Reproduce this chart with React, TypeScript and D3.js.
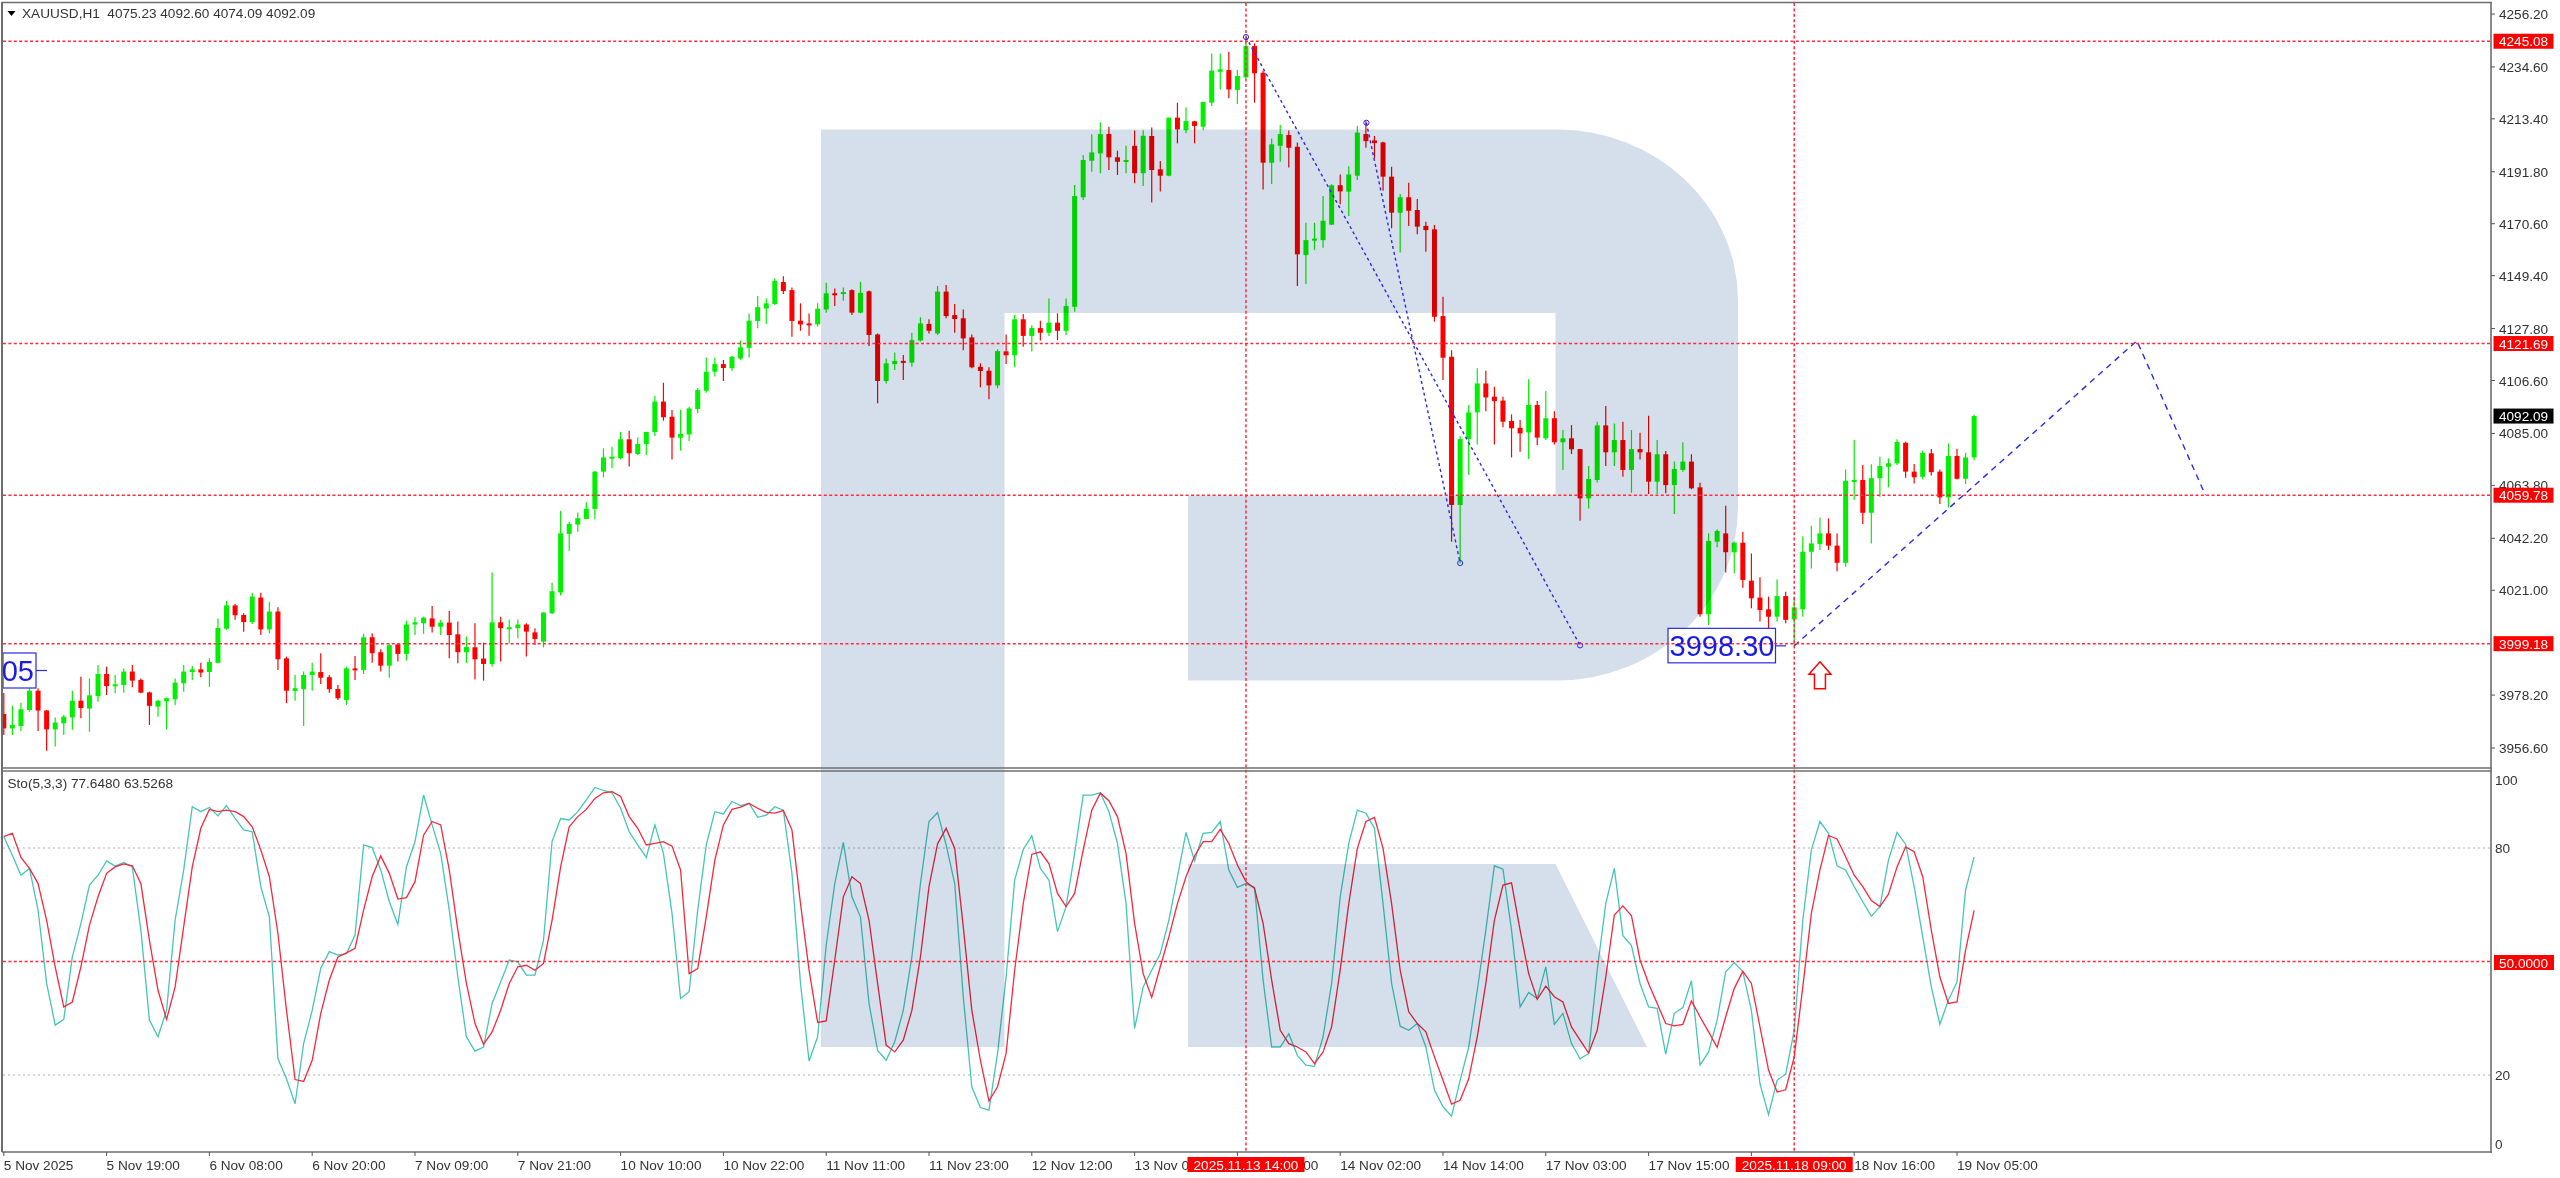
import React from "react";
import * as d3 from "d3";

const highs = [
3979.0,3973.8,3975.1,3984.4,3981.0,3972.1,3969.1,3970.1,3980.0,3985.7,
3985.0,3990.5,3989.8,3986.4,3989.1,3990.5,3985.0,3979.6,3976.2,3977.2,
3985.0,3990.5,3990.1,3991.4,3993.2,4009.5,4016.6,4015.4,4011.6,4020.0,
4020.0,4016.3,4014.0,3993.9,3986.4,3987.8,3991.4,3995.3,3986.4,3982.3,
3989.8,3994.2,4003.2,4003.4,3996.9,3998.9,3999.3,4008.6,4010.0,4010.2,
4014.6,4008.9,4012.5,4008.2,4002.1,4007.5,3999.6,4028.2,4010.2,4008.9,
4009.1,4007.5,4005.5,4012.0,4024.1,4053.3,4049.0,4052.7,4056.9,4069.7,
4078.9,4079.6,4085.7,4086.1,4083.4,4085.7,4100.4,4105.7,4094.6,4094.6,
4095.9,4103.4,4116.0,4116.0,4115.0,4116.6,4122.9,4134.0,4141.1,4140.1,
4148.3,4149.2,4144.6,4138.1,4134.0,4138.1,4146.5,4144.2,4144.6,4143.8,
4146.9,4143.3,4125.8,4115.6,4118.0,4117.0,4126.1,4132.4,4131.6,4145.2,
4145.6,4137.8,4135.6,4125.4,4113.6,4112.0,4119.3,4125.4,4133.3,4133.7,
4129.2,4131.0,4140.1,4134.0,4140.1,4186.4,4198.6,4207.1,4212.0,4210.2,
4200.4,4202.4,4208.6,4208.8,4209.9,4196.2,4214.0,4220.0,4218.1,4212.6,
4220.4,4240.1,4240.1,4240.8,4233.3,4246.9,4244.2,4233.1,4205.4,4210.9,
4208.6,4203.7,4171.0,4171.0,4181.9,4186.7,4190.7,4194.1,4210.5,4212.6,
4206.4,4204.1,4193.9,4182.7,4187.3,4180.7,4171.4,4170.1,4140.8,4119.0,
4083.9,4096.6,4111.6,4110.6,4104.1,4100.0,4092.8,4090.5,4107.1,4098.2,
4102.3,4094.1,4086.4,4088.4,4078.6,4071.7,4089.8,4096.2,4089.1,4089.8,
4086.4,4085.3,4092.2,4082.3,4077.8,4073.5,4081.4,4076.5,4064.9,4044.2,
4045.9,4055.5,4040.8,4044.9,4036.0,4026.3,4018.4,4025.4,4020.4,4018.4,
4042.9,4047.3,4050.7,4050.3,4044.2,4070.3,4082.3,4072.1,4072.4,4075.5,
4074.8,4082.6,4081.6,4072.5,4078.0,4078.6,4070.3,4080.9,4078.6,4077.1,4092.60];

const lows = [
3961.9,3961.9,3963.5,3971.4,3963.5,3955.5,3957.2,3961.9,3964.0,3968.7,
3963.3,3975.5,3978.2,3978.9,3979.2,3981.4,3978.9,3966.0,3969.4,3964.2,
3974.2,3979.6,3984.4,3985.5,3981.6,3991.2,4004.8,4008.9,4004.1,4007.2,
4002.7,4003.4,3988.4,3974.9,3975.9,3965.6,3980.0,3982.7,3979.2,3976.2,
3974.2,3984.4,3986.8,3991.4,3987.8,3985.3,3991.9,3992.3,4002.7,4003.2,
4003.7,4002.7,3993.2,3991.2,3991.2,3984.6,3984.1,3989.8,3991.9,3999.3,
4001.4,3993.9,3998.6,3997.7,4011.3,4018.8,4037.1,4044.9,4050.1,4050.0,
4067.1,4070.8,4074.4,4071.5,4076.2,4076.2,4083.9,4090.2,4074.4,4078.0,
4081.9,4093.2,4101.6,4108.2,4106.4,4110.6,4115.0,4116.0,4127.9,4129.7,
4137.4,4141.9,4124.5,4126.9,4124.9,4128.6,4134.3,4137.0,4139.2,4133.3,
4134.0,4120.7,4097.3,4105.4,4110.9,4106.8,4112.2,4122.5,4125.8,4125.2,
4132.0,4126.1,4119.0,4111.6,4103.8,4098.9,4103.4,4113.3,4112.0,4120.4,
4118.4,4122.9,4124.8,4123.1,4125.2,4134.7,4180.3,4191.8,4191.2,4192.5,
4190.5,4191.2,4187.1,4186.0,4179.3,4183.7,4190.0,4203.4,4207.5,4203.4,
4208.8,4218.6,4225.4,4221.8,4219.5,4229.9,4220.0,4184.6,4186.8,4195.9,
4193.5,4145.2,4146.0,4159.9,4160.8,4170.1,4178.5,4173.7,4188.4,4201.6,
4197.3,4184.1,4168.7,4158.8,4169.7,4166.3,4159.2,4130.6,4106.8,4040.8,
4032.0,4068.0,4080.5,4094.1,4080.5,4087.5,4075.2,4077.5,4074.6,4080.3,
4082.3,4080.5,4070.1,4076.6,4049.4,4054.4,4065.0,4071.7,4071.7,4067.3,
4060.8,4074.4,4060.3,4060.3,4060.6,4052.1,4069.4,4062.2,4010.2,4006.8,
4038.5,4028.2,4027.9,4022.0,4013.6,4008.2,4004.8,4008.2,4007.5,3998.6,
4010.2,4029.9,4037.4,4037.4,4028.6,4030.6,4057.8,4048.0,4040.1,4059.2,
4063.0,4072.1,4066.9,4064.6,4066.2,4067.8,4056.2,4054.8,4066.2,4064.3,4074.09];

const opens = [
3970.5,3964.6,3965.6,3972.1,3980.0,3971.9,3964.2,3966.7,3969.1,3975.9,
3972.7,3977.8,3986.8,3981.9,3982.3,3987.8,3984.4,3979.3,3973.5,3975.7,
3976.5,3983.0,3987.6,3988.7,3987.6,3991.4,4005.3,4014.8,4010.9,4008.0,
4018.0,4005.0,4012.3,3993.2,3979.9,3980.6,3986.4,3987.6,3985.5,3980.7,
3976.2,3989.1,3988.4,4001.8,3995.7,3990.2,3998.9,3995.0,4007.0,4007.5,
4009.5,4006.1,4007.8,4003.0,3995.7,3997.7,3993.1,3990.9,4007.9,4005.5,
4005.5,4007.0,4003.8,4000.0,4011.6,4020.1,4044.0,4047.8,4050.1,4054.2,
4069.4,4075.0,4074.9,4082.6,4076.6,4080.7,4085.6,4098.0,4091.8,4083.3,
4084.6,4095.0,4102.4,4110.2,4113.3,4111.6,4115.6,4119.9,4130.9,4136.0,
4137.8,4146.8,4143.5,4131.0,4129.9,4129.5,4135.6,4142.2,4141.9,4143.5,
4134.3,4143.0,4125.4,4106.4,4113.3,4114.6,4113.9,4122.9,4129.7,4125.8,
4142.9,4133.3,4132.0,4124.2,4112.2,4110.6,4104.6,4118.5,4116.9,4131.6,
4124.8,4128.0,4126.1,4130.2,4126.9,4136.7,4181.4,4196.3,4199.3,4207.2,
4197.7,4196.0,4202.4,4191.2,4206.4,4192.8,4190.2,4213.9,4208.8,4212.4,
4210.2,4220.0,4232.6,4233.3,4225.2,4230.3,4243.1,4232.2,4195.5,4202.4,
4206.8,4202.0,4157.8,4163.8,4163.9,4170.2,4186.3,4183.7,4190.2,4207.2,
4204.6,4203.8,4189.8,4175.1,4181.4,4176.2,4169.7,4168.3,4132.9,4116.3,
4055.8,4082.7,4093.6,4105.4,4100.0,4098.4,4090.1,4087.3,4085.4,4096.6,
4083.0,4091.2,4081.4,4083.0,4078.6,4058.5,4066.0,4088.3,4077.3,4082.3,
4070.1,4078.6,4077.3,4065.3,4076.5,4063.9,4070.1,4073.5,4063.0,4011.2,
4040.8,4044.2,4036.5,4040.4,4024.9,4018.0,4013.2,4010.2,4018.6,4009.1,
4013.2,4036.7,4039.9,4044.2,4039.2,4032.2,4065.2,4066.0,4052.6,4066.7,
4071.4,4072.8,4081.2,4069.4,4067.3,4076.9,4069.4,4058.9,4075.8,4066.5,4075.23];

const closes = [
3964.6,3966.0,3972.4,3980.0,3971.9,3964.2,3967.0,3969.4,3975.9,3972.9,
3978.1,3986.8,3981.9,3982.6,3987.8,3984.1,3979.2,3973.8,3975.9,3976.9,
3983.3,3987.8,3988.7,3987.4,3991.7,4005.6,4014.8,4010.8,4008.0,4018.4,
4005.0,4012.3,3992.8,3980.0,3981.0,3986.4,3987.8,3985.3,3980.6,3976.9,
3989.1,3988.4,4001.8,3995.3,3990.2,3998.6,3995.0,4007.0,4007.9,4009.8,
4006.1,4007.8,4002.7,3995.7,3997.8,3992.8,3990.9,4007.9,4005.5,4005.9,
4007.0,4004.1,4001.1,4011.9,4020.6,4044.2,4048.0,4050.4,4054.2,4069.4,
4075.2,4075.5,4082.6,4076.9,4080.7,4085.6,4098.0,4091.6,4083.3,4084.8,
4095.2,4102.7,4110.2,4113.3,4111.7,4116.3,4120.1,4131.0,4136.5,4138.1,
4147.3,4143.1,4130.9,4129.5,4129.7,4135.9,4142.2,4141.8,4142.7,4134.3,
4142.4,4125.2,4106.4,4113.6,4114.6,4113.9,4123.1,4129.9,4126.9,4142.9,
4132.9,4131.7,4123.8,4112.0,4110.5,4104.6,4118.6,4116.9,4131.6,4124.8,
4128.0,4126.1,4130.2,4126.9,4137.0,4181.9,4196.6,4199.7,4207.2,4197.7,
4195.9,4196.6,4191.2,4206.5,4192.5,4190.2,4213.9,4209.1,4212.5,4210.5,
4220.3,4233.1,4233.6,4225.4,4230.9,4243.1,4232.0,4195.5,4203.0,4207.2,
4201.6,4158.1,4163.9,4164.5,4171.8,4186.3,4183.8,4190.7,4207.8,4204.3,
4203.5,4189.8,4175.1,4181.4,4175.9,4169.4,4168.0,4132.6,4115.9,4055.8,
4082.7,4093.6,4105.4,4099.7,4098.2,4089.8,4087.1,4085.0,4096.6,4083.3,
4091.2,4081.4,4083.0,4078.5,4058.5,4066.4,4088.3,4077.3,4082.3,4070.1,
4078.6,4077.3,4065.3,4076.5,4063.9,4070.5,4073.5,4062.6,4011.2,4041.1,
4045.2,4036.5,4040.4,4025.2,4017.7,4012.9,4010.2,4018.6,4008.9,4014.0,
4036.7,4040.1,4044.2,4039.2,4032.2,4065.7,4066.0,4052.6,4066.7,4071.7,
4072.8,4081.5,4069.4,4067.1,4077.1,4069.2,4058.9,4075.8,4066.5,4075.2,4092.09];

const stochK = [
83.0,78.1,72.8,74.6,63.6,44.2,33.2,34.7,51.2,60.0,70.2,72.8,76.6,75.2,76.2,75.0,58.3,34.5,30.1,37.1,
60.9,74.2,90.9,89.6,90.7,88.5,91.2,87.8,84.8,84.3,69.8,61.8,24.3,19.0,12.4,28.3,37.1,48.2,52.6,51.7,
52.1,57.0,80.8,80.1,74.2,65.8,59.8,75.0,81.7,94.0,86.1,78.6,63.6,45.9,30.1,26.3,27.4,38.9,44.6,50.4,
49.9,46.4,46.4,55.6,81.7,87.8,87.4,89.6,92.7,96.0,95.2,94.6,90.5,84.3,80.8,77.5,86.1,78.6,62.7,40.2,
42.0,63.6,80.8,89.6,89.0,92.3,91.2,91.8,88.1,88.7,90.9,90.0,73.3,44.2,23.7,30.1,54.3,70.6,81.5,67.1,
61.8,38.9,26.5,23.9,28.8,37.1,51.2,70.6,87.0,89.4,80.8,70.6,40.7,16.8,11.4,10.7,25.7,45.9,71.5,79.6,
83.2,74.6,71.5,57.9,64.5,78.6,94.0,94.0,94.6,89.6,81.2,65.3,32.3,43.3,47.7,52.1,60.9,72.4,84.1,76.6,
83.9,84.1,87.0,74.2,69.6,70.6,69.6,45.1,27.4,27.4,30.9,25.2,22.6,22.3,30.1,44.2,67.1,81.2,90.0,89.2,
85.2,65.3,44.2,32.9,31.8,33.6,27.4,16.0,11.6,9.1,18.6,27.4,42.4,58.3,75.3,74.4,58.3,38.0,41.8,40.2,
48.6,33.4,36.3,28.3,24.3,25.7,47.7,65.3,74.6,56.8,54.2,44.2,38.0,37.6,25.5,36.3,37.8,44.9,22.6,26.1,
34.5,47.3,49.7,47.3,37.1,17.7,9.5,18.6,20.2,31.8,60.9,79.5,87.0,83.9,75.3,74.2,69.8,65.8,62.0,64.5,
76.8,84.1,81.0,69.8,56.5,43.3,33.4,39.8,44.6,68.9,77.648];

const stochD = [
83.0,83.9,77.5,74.6,70.6,60.9,48.6,38.0,39.3,48.6,59.6,67.1,73.3,75.0,75.8,75.3,70.6,55.6,42.4,34.7,
43.3,59.2,75.0,85.2,90.2,89.6,90.0,89.6,88.3,85.6,79.5,72.4,57.4,37.1,18.8,18.3,23.9,36.3,45.1,51.2,
52.3,53.5,63.6,72.4,77.9,73.3,66.5,66.9,71.1,83.4,87.0,86.1,74.2,58.3,44.2,33.6,28.1,31.4,37.1,44.2,
48.6,49.0,47.7,49.5,60.9,75.0,85.6,88.3,90.2,93.1,94.6,94.9,93.6,88.3,85.2,80.8,81.2,81.7,80.5,74.2,
46.8,48.1,61.8,76.8,86.1,90.2,90.8,91.8,90.5,89.4,89.2,89.9,84.8,65.3,47.7,33.9,34.3,50.4,67.1,72.4,
70.6,60.9,44.2,27.9,26.1,29.2,37.1,51.2,69.8,81.1,85.2,79.9,59.2,37.1,23.9,13.1,16.9,25.7,47.7,65.3,
78.3,79.0,75.9,68.0,64.5,68.0,79.5,90.0,94.5,92.5,88.3,78.6,60.1,46.8,40.5,48.6,56.5,65.3,72.4,77.9,
81.7,81.7,84.9,81.2,75.5,71.1,69.3,60.1,45.1,31.8,28.3,27.4,26.1,23.0,26.1,32.7,47.7,65.3,79.9,87.0,
88.1,79.9,65.3,47.7,36.7,33.6,31.4,24.8,18.6,12.3,13.3,19.0,30.1,44.2,60.9,70.2,70.8,58.3,46.8,40.0,
43.5,40.7,39.3,32.7,29.2,25.8,31.8,45.9,62.3,64.7,62.1,50.4,44.2,38.9,33.6,33.0,33.4,39.6,35.4,31.4,
27.3,35.4,42.9,47.4,44.2,32.7,21.3,15.5,16.1,24.8,43.3,62.7,74.2,83.3,82.4,77.7,72.8,69.8,66.1,64.5,
67.8,75.0,80.3,79.0,72.4,58.3,45.9,38.9,39.3,53.0,63.5268];

const priceTicks = [4256.2,4234.6,4213.4,4191.8,4170.6,4149.4,4127.8,4106.6,4085.0,4063.8,4042.2,4021.0,3978.2,3956.6];
const priceLevels = [4245.08,4121.69,4059.78,3999.18];
const lastPrice = 4092.09;
const timeLabels = ["5 Nov 2025","5 Nov 19:00","6 Nov 08:00","6 Nov 20:00","7 Nov 09:00","7 Nov 21:00","10 Nov 10:00","10 Nov 22:00","11 Nov 11:00","11 Nov 23:00","12 Nov 12:00","13 Nov 01:00","13 Nov 13:00","14 Nov 02:00","14 Nov 14:00","17 Nov 03:00","17 Nov 15:00","18 Nov 04:00","18 Nov 16:00","19 Nov 05:00"];
const crosshairs = [{ bar: 145, label: "2025.11.13 14:00" }, { bar: 209, label: "2025.11.18 09:00" }];
const waveA = [[145, 4246.8], [184, 3998.5]];
const waveB = [[159.06, 4211.8], [170, 4032.1]];
const forecast = [[209, 3998.3], [249, 4122.8], [257, 4059.8]];
const stochGrid = [80, 20];
const stochLabels = [{ v: 100, t: "100", dy: 8 }, { v: 80, t: "80", dy: 0 }, { v: 20, t: "20", dy: 0 }, { v: 0, t: "0", dy: -7 }];

const W = 2560, H = 1178;
const L = 3, R = 2491, T = 3, MB = 768, ST = 771, SB = 1152;
const FONT = "'Liberation Sans', Arial, sans-serif";
const TXT = "#333";
const BLUE = "#2a2ae8";
const DASHRED = "#ff2a3c";

const x = d3.scaleLinear().domain([0, 228]).range([3.8, 1957]);
const y = d3.scaleLinear().domain([4256.2, 3956.6]).range([14, 748]);
const s = d3.scaleLinear().domain([80, 20]).range([848, 1075]);
const lineP = d3.line<number[]>().x(d => x(d[0])).y(d => y(d[1]));
const lineS = d3.line<number>().x((_, i) => x(i)).y(d => s(d));

const LOGO = "M821,129.5 L1557,129.5 A181,171 0 0 1 1738,300 L1738,507 A181,173.5 0 0 1 1557,680.5 L1188,680.5 L1188,496 L1555.5,496 L1555.5,313 L1004.5,313 L1004.5,1047 L821,1047 Z M1188,864 L1555.5,864 L1647,1047 L1188,1047 Z";

export default function App() {
  return (
    <svg width={W} height={H} viewBox={`0 0 ${W} ${H}`}
      style={{ position: "absolute", left: 0, top: 0, display: "block", filter: "blur(0.45px)" }}>
      <defs>
        <clipPath id="mainClip"><rect x={L} y={T} width={R - L} height={MB - T} /></clipPath>
        <clipPath id="stoClip"><rect x={L} y={ST} width={R - L} height={SB - ST} /></clipPath>
      </defs>
      <rect width={W} height={H} fill="#fff" />

      <g clipPath="url(#mainClip)">
        {opens.map((o, i) => {
          const c = closes[i];
          const col = c >= o ? "#00f000" : "#ff0000";
          const top = y(Math.max(o, c));
          const h = Math.max(2, y(Math.min(o, c)) - top);
          return (
            <g key={i}>
              <line x1={x(i)} x2={x(i)} y1={y(highs[i])} y2={y(lows[i])} stroke={col} strokeWidth={1.2} />
              <rect x={x(i) - 2.5} y={top} width={5} height={h} fill={col} />
            </g>
          );
        })}
      </g>

      <g clipPath="url(#stoClip)">
        {stochGrid.map(v => (
          <line key={v} x1={L} x2={R} y1={s(v)} y2={s(v)} stroke="#b4b4b4" strokeWidth={1.2} strokeDasharray="2 3" />
        ))}
        <path d={lineS(stochK) || ""} fill="none" stroke="#45c6b6" strokeWidth={1.3} />
        <path d={lineS(stochD) || ""} fill="none" stroke="#f5283e" strokeWidth={1.3} />
      </g>

      <path d={LOGO} fill="#d5dfeb" style={{ mixBlendMode: "multiply" }} />

      {/* wave studies */}
      <g clipPath="url(#mainClip)" fill="none" stroke={BLUE}>
        <path d={lineP(waveA as number[][]) || ""} strokeWidth={1.4} strokeDasharray="3 3" />
        <path d={lineP(waveB as number[][]) || ""} strokeWidth={1.4} strokeDasharray="3 3" />
        <path d={lineP(forecast as number[][]) || ""} strokeWidth={1.4} strokeDasharray="6 5" />
        {[waveA[0], waveA[1], waveB[0], waveB[1]].map((p, i) => (
          <circle key={i} cx={x(p[0])} cy={y(p[1])} r={2.6} strokeWidth={1} />
        ))}
      </g>

      {/* price label boxes */}
      <rect x={1668} y={y(3998.3) - 17.5} width={107.5} height={34.5} fill="#fff" stroke={BLUE} strokeWidth={1.2} />
      <line x1={1775.5} x2={1786} y1={y(3998.3)} y2={y(3998.3)} stroke={BLUE} strokeWidth={1.2} />
      <rect x={L} y={653} width={33} height={35} fill="#fff" stroke={BLUE} strokeWidth={1.2} />
      <line x1={36} x2={47} y1={670.5} y2={670.5} stroke={BLUE} strokeWidth={1.2} />

      {/* levels */}
      {priceLevels.map(p => (
        <line key={p} x1={L} x2={R} y1={y(p)} y2={y(p)} stroke={DASHRED} strokeWidth={1.5} strokeDasharray="3 2.4" />
      ))}
      <line x1={L} x2={R} y1={s(50)} y2={s(50)} stroke={DASHRED} strokeWidth={1.5} strokeDasharray="3 2.4" />
      {crosshairs.map(c => (
        <line key={c.bar} x1={x(c.bar)} x2={x(c.bar)} y1={T} y2={SB} stroke={DASHRED} strokeWidth={1.5} strokeDasharray="3 2.4" />
      ))}

      <text x={1722} y={y(3998.3) + 10.5} fill="#1a1ae0" fontFamily={FONT} fontSize={29} textAnchor="middle">3998.30</text>
      <text x={34} y={681} fill="#1a1ae0" fontFamily={FONT} fontSize={29} textAnchor="end">05</text>

      {/* up arrow */}
      <path transform={`translate(${x(212)},${y(3991.8)})`}
        d="M0,0 L11,12.5 L5.5,12.5 L5.5,27 L-5.5,27 L-5.5,12.5 L-11,12.5 Z"
        fill="#fff" stroke="#ff0000" strokeWidth={1.5} />

      {/* frame */}
      <g stroke="#6e6e6e" fill="none">
        <line x1={2} x2={2} y1={2} y2={SB} strokeWidth={2} />
        <line x1={2} x2={R + 1} y1={2.5} y2={2.5} strokeWidth={1.6} />
        <line x1={R} x2={R} y1={2} y2={SB + 1} strokeWidth={1.6} />
        <line x1={2} x2={R + 1} y1={768} y2={768} strokeWidth={1.5} />
        <line x1={2} x2={R + 1} y1={771} y2={771} strokeWidth={1.5} />
        <line x1={2} x2={R + 1} y1={SB} y2={SB} strokeWidth={1.6} />
      </g>

      {/* price axis */}
      {priceTicks.map(p => (
        <g key={p}>
          <line x1={R} x2={R + 4} y1={y(p)} y2={y(p)} stroke="#555" strokeWidth={1} />
          <text x={2499} y={y(p) + 5} fill={TXT} fontFamily={FONT} fontSize={13.6}>{p.toFixed(2)}</text>
        </g>
      ))}
      {priceLevels.map(p => (
        <g key={p}>
          <rect x={2493.5} y={y(p) - 7.5} width={60} height={15} fill="#ff0000" />
          <text x={2499} y={y(p) + 5} fill="#fff" fontFamily={FONT} fontSize={13.6}>{p.toFixed(2)}</text>
        </g>
      ))}
      <rect x={2493.5} y={y(lastPrice) - 7.5} width={60} height={15} fill="#000" />
      <text x={2499} y={y(lastPrice) + 5} fill="#fff" fontFamily={FONT} fontSize={13.6}>{lastPrice.toFixed(2)}</text>

      {/* stochastic axis */}
      {stochLabels.map(l => (
        <text key={l.t} x={2495} y={s(l.v) + l.dy + 5} fill={TXT} fontFamily={FONT} fontSize={13.6}>{l.t}</text>
      ))}
      <rect x={2494} y={s(50) - 6.5} width={60} height={15} fill="#ff0000" />
      <text x={2499} y={s(50) + 6} fill="#fff" fontFamily={FONT} fontSize={13.6}>50.0000</text>

      {/* time axis */}
      {timeLabels.map((t, i) => (
        <g key={t}>
          <line x1={x(i * 12)} x2={x(i * 12)} y1={SB} y2={SB + 4} stroke="#555" strokeWidth={1} />
          <text x={x(i * 12)} y={1170} fill={TXT} fontFamily={FONT} fontSize={13.6}>{t}</text>
        </g>
      ))}
      {crosshairs.map(c => (
        <g key={c.bar}>
          <rect x={x(c.bar) - 58.5} y={1157} width={117} height={15} fill="#ff0000" />
          <text x={x(c.bar)} y={1170} fill="#fff" fontFamily={FONT} fontSize={13.6} textAnchor="middle">{c.label}</text>
        </g>
      ))}

      {/* headers */}
      <path d="M7.5,11 L15.5,11 L11.5,16 Z" fill="#000" />
      <text x={22} y={18} fill={TXT} fontFamily={FONT} fontSize={13.6} xmlSpace="preserve">XAUUSD,H1  4075.23 4092.60 4074.09 4092.09</text>
      <text x={7.5} y={788} fill={TXT} fontFamily={FONT} fontSize={13.6}>Sto(5,3,3) 77.6480 63.5268</text>
    </svg>
  );
}
